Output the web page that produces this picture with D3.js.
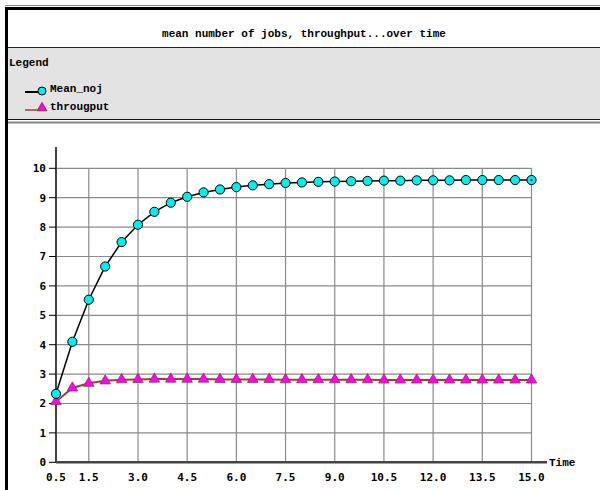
<!DOCTYPE html>
<html>
<head>
<meta charset="utf-8">
<script src="https://cdn.jsdelivr.net/npm/d3@7"></script>
<style>
  body { margin: 0; background: #fff; }
  svg { display: block; }
  .tick-label { font-family: "DejaVu Sans Mono", monospace; font-weight: bold; font-size: 11px; fill: #000; }
  .frame-text { font-family: "Liberation Mono", "Courier New", monospace; font-weight: bold; font-size: 11px; fill: #000; }
</style>
</head>
<body>
<div id="chart"></div>
<script>
// dades llegides del gràfic
const timeValues = [0.5, 1.0, 1.5, 2.0, 2.5, 3.0, 3.5, 4.0, 4.5, 5.0, 5.5, 6.0, 6.5, 7.0, 7.5,
                    8.0, 8.5, 9.0, 9.5, 10.0, 10.5, 11.0, 11.5, 12.0, 12.5, 13.0, 13.5, 14.0, 14.5, 15.0];
const meanNoj = [2.33, 4.1, 5.53, 6.66, 7.49, 8.08, 8.52, 8.83, 9.03, 9.18, 9.28, 9.36, 9.42, 9.46, 9.5,
                 9.52, 9.54, 9.55, 9.56, 9.57, 9.58, 9.58, 9.59, 9.59, 9.59, 9.6, 9.6, 9.6, 9.6, 9.6];
const throughput = [2.07, 2.53, 2.69, 2.77, 2.81, 2.82, 2.83, 2.83, 2.83, 2.83, 2.82, 2.82, 2.82, 2.82, 2.81,
                    2.81, 2.81, 2.81, 2.81, 2.81, 2.8, 2.8, 2.8, 2.8, 2.8, 2.8, 2.8, 2.8, 2.8, 2.8];
const xTicks = [0.5, 1.5, 3.0, 4.5, 6.0, 7.5, 9.0, 10.5, 12.0, 13.5, 15.0];
const yTicks = [0, 1, 2, 3, 4, 5, 6, 7, 8, 9, 10];
const legendItems = ["Mean_noj", "througput"];

const width = 600, height = 490;
const svg = d3.select("#chart").append("svg")
    .attr("width", width)
    .attr("height", height);

// marc superior i esquerre
svg.append("line").attr("x1", 5).attr("x2", width).attr("y1", 5.5).attr("y2", 5.5)
    .attr("stroke", "#888").attr("stroke-width", 1);
svg.append("rect").attr("x", 5).attr("y", 7).attr("width", width - 5).attr("height", 3).attr("fill", "#000");
svg.append("rect").attr("x", 5).attr("y", 7).attr("width", 3).attr("height", height - 7).attr("fill", "#000");

// títol
svg.append("text").attr("class", "frame-text")
    .attr("x", 304).attr("y", 37)
    .attr("text-anchor", "middle")
    .text("mean number of jobs, throughput...over time");

// zona de la llegenda
svg.append("rect").attr("x", 8).attr("y", 47).attr("width", width - 8).attr("height", 72).attr("fill", "#e3e3e3");
svg.append("line").attr("x1", 8).attr("x2", width).attr("y1", 47.5).attr("y2", 47.5).attr("stroke", "#222");
svg.append("line").attr("x1", 8).attr("x2", width).attr("y1", 119.5).attr("y2", 119.5).attr("stroke", "#111");
svg.append("line").attr("x1", 8).attr("x2", width).attr("y1", 122.5).attr("y2", 122.5).attr("stroke", "#888").attr("stroke-width", 2);

svg.append("text").attr("class", "frame-text").attr("x", 9).attr("y", 66).text("Legend");

const legend = svg.append("g").selectAll("g")
    .data(legendItems)
    .join("g")
    .attr("transform", (d, i) => `translate(0,${90 + i * 18})`);

legend.append("line")
    .attr("x1", 25).attr("x2", 40).attr("y1", 2).attr("y2", 2)
    .attr("stroke", (d, i) => i === 0 ? "#000" : "#a83a3a")
    .attr("stroke-width", (d, i) => i === 0 ? 2 : 1.5);
legend.filter((d, i) => i === 0).append("circle")
    .attr("cx", 42).attr("cy", 1).attr("r", 4)
    .attr("fill", "#00eeee").attr("stroke", "#000");
legend.filter((d, i) => i === 1).append("path")
    .attr("d", d3.symbol(d3.symbolTriangle, 40)())
    .attr("transform", "translate(42,0)")
    .attr("fill", "#ff00ff").attr("stroke", "#a0303a");
legend.append("text").attr("class", "frame-text")
    .attr("x", 50).attr("y", 2)
    .text(d => d);

// escales
const x = d3.scaleLinear().domain([0.5, 15]).range([56, 531.5]);
const y = d3.scaleLinear().domain([0, 10]).range([462.3, 168.3]);

// graella
svg.append("g").selectAll("line")
    .data(yTicks.filter(d => d > 0))
    .join("line")
    .attr("x1", x(0.5)).attr("x2", x(15))
    .attr("y1", d => y(d)).attr("y2", d => y(d))
    .attr("stroke", "#8a8a8a").attr("stroke-width", 1.2);
svg.append("g").selectAll("line")
    .data(xTicks.filter(d => d > 0.5))
    .join("line")
    .attr("x1", d => x(d)).attr("x2", d => x(d))
    .attr("y1", y(10)).attr("y2", y(0))
    .attr("stroke", "#8a8a8a").attr("stroke-width", 1.2);

// eixos
svg.append("line").attr("x1", x(0.5)).attr("x2", x(0.5)).attr("y1", 147).attr("y2", y(0))
    .attr("stroke", "#444").attr("stroke-width", 2);
svg.append("line").attr("x1", x(0.5)).attr("x2", 547).attr("y1", y(0)).attr("y2", y(0))
    .attr("stroke", "#444").attr("stroke-width", 2.5);

svg.append("g").selectAll("line")
    .data(yTicks)
    .join("line")
    .attr("x1", x(0.5) - 7).attr("x2", x(0.5))
    .attr("y1", d => y(d)).attr("y2", d => y(d))
    .attr("stroke", "#000").attr("stroke-width", 1);

svg.append("g").selectAll("text")
    .data(yTicks)
    .join("text")
    .attr("class", "tick-label")
    .attr("x", x(0.5) - 10)
    .attr("y", d => y(d))
    .attr("dy", "0.35em")
    .attr("text-anchor", "end")
    .text(d => d);

svg.append("g").selectAll("text")
    .data(xTicks)
    .join("text")
    .attr("class", "tick-label")
    .attr("x", d => x(d))
    .attr("y", 481)
    .attr("text-anchor", "middle")
    .text(d => d.toFixed(1));

svg.append("text").attr("class", "frame-text")
    .attr("x", 549).attr("y", 466)
    .text("Time");

// sèries
const lineGen = vals => d3.line()
    .x((d, i) => x(timeValues[i]))
    .y(d => y(d))(vals);

svg.append("path")
    .attr("d", lineGen(throughput))
    .attr("fill", "none")
    .attr("stroke", "#a83a3a")
    .attr("stroke-width", 2);

svg.append("path")
    .attr("d", lineGen(meanNoj))
    .attr("fill", "none")
    .attr("stroke", "#000")
    .attr("stroke-width", 1.5);

svg.append("g").selectAll("path")
    .data(throughput)
    .join("path")
    .attr("d", d3.symbol(d3.symbolTriangle, 48)())
    .attr("transform", (d, i) => `translate(${x(timeValues[i])},${y(d)})`)
    .attr("fill", "#ff00ff")
    .attr("stroke", "#a0303a")
    .attr("stroke-width", 0.8);

svg.append("g").selectAll("circle")
    .data(meanNoj)
    .join("circle")
    .attr("cx", (d, i) => x(timeValues[i]))
    .attr("cy", d => y(d))
    .attr("r", 4.6)
    .attr("fill", "#00eeee")
    .attr("stroke", "#000")
    .attr("stroke-width", 1);

// punt marcat a l'últim valor
svg.append("circle")
    .attr("cx", x(timeValues[timeValues.length - 1]))
    .attr("cy", y(meanNoj[meanNoj.length - 1]))
    .attr("r", 1.2)
    .attr("fill", "#055");
</script>
</body>
</html>
